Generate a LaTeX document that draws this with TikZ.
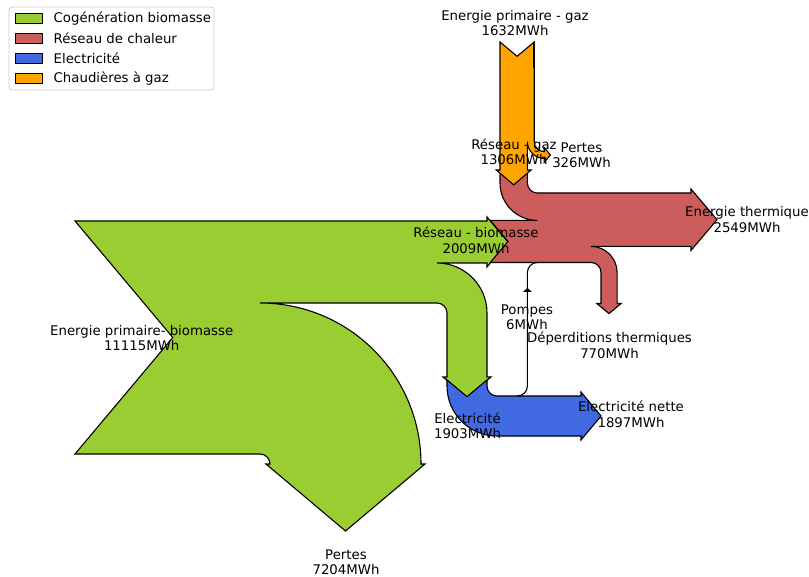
\documentclass[tikz,border=0pt]{standalone}
\usepackage{fontspec}
\setmainfont{DejaVu Sans}
\usetikzlibrary{positioning}
\definecolor{bio}{RGB}{154,205,50}
\definecolor{chaleur}{RGB}{205,92,92}
\definecolor{elec}{RGB}{65,105,225}
\definecolor{gaz}{RGB}{255,165,0}

\begin{document}
\begin{tikzpicture}[x=1pt, y=-1pt,
    every node/.style = {font=\fontsize{13.3}{15.5}\selectfont, inner sep=0pt},
    flux/.style = {draw=black, line width=1.1pt, line join=miter},
    lbl/.style = {align=center},
    patch/.style = {draw=black, line width=1pt, minimum width=27pt, minimum height=10pt}]
        \useasboundingbox (0,0) rectangle (809,577);

        \path[flux, fill=bio] (75,221) -- (487,221) -- (487,217) -- (508,242) -- (487,267) -- (487,263) -- (437,263)
            arc[start angle=-90, end angle=0, radius=50] -- (487,377) -- (491,377) -- (467,397) -- (443,377) -- (447,377) -- (447,313)
            arc[start angle=0, end angle=-90, radius=10] -- (260,303)
            arc[start angle=-90, end angle=0, radius=161] -- (425,464) -- (345.5,531) -- (266,464) -- (270,464)
            arc[start angle=0, end angle=-90, radius=10] -- (75,454) -- (172.8,337.5) -- cycle;

        \path[flux, fill=chaleur] (500,170) -- (513.7,181.5) -- (527.4,170) -- (527.4,183)
            arc[start angle=180, end angle=90, radius=10] -- (691,193) -- (691,189) -- (717,219.7) -- (691,250.4) -- (691,246.4) -- (591,246.4)
            arc[start angle=-90, end angle=0, radius=26.1] -- (617.1,303.5) -- (621.1,303.5) -- (609,313.6) -- (596.9,303.5) -- (601,303.5) -- (601,272.5)
            arc[start angle=0, end angle=-90, radius=10] -- (537.4,262.5) -- (490.3,262.5) -- (508,241.5) -- (490.3,220.4) -- (537.4,220.4)
            arc[start angle=90, end angle=180, radius=37.4] -- cycle;

        \path[flux, fill=elec] (447,380) -- (467,396.7) -- (487,380) -- (487,386)
            arc[start angle=180, end angle=90, radius=10] -- (581,396) -- (581,392) -- (601,416) -- (581,440) -- (581,436) -- (497,436)
            arc[start angle=90, end angle=180, radius=50] -- cycle;
        \draw[flux] (517.4,396) arc[start angle=90, end angle=0, radius=10] -- (527.4,272.5)
            arc[start angle=180, end angle=270, radius=10];
        \path[flux, line width=0.8pt, fill=black] (527.4,288.5) -- (530.9,291.6) -- (523.9,291.6) -- cycle;

        \path[flux, fill=gaz] (500,42) -- (517.1,56.3) -- (534.2,42) -- (534.2,141.6)
            arc[start angle=180, end angle=90, radius=10] -- (544.2,147.6) -- (550.4,155) -- (544.2,162.4) -- (544.2,158.4)
            arc[start angle=90, end angle=180, radius=16.8] -- (527.4,170) -- (531.1,170) -- (513.7,184.9) -- (496.3,170) -- (500,170) -- cycle;
        \draw[line width=2.2pt] (534.2,42) -- (534.2,68);

        \node[lbl] (Lgazin) at (515,23) {Energie primaire - gaz\\1632MWh};
        \node[lbl] (Lgazres) at (514,152) {Réseau - gaz\\1306MWh};
        \node[lbl] (Lgazpertes) at (581.5,155) {Pertes\\326MWh};
        \node[lbl] (Ltherm) at (747,219.5) {Energie thermique\\2549MWh};
        \node[lbl] (Lbiores) at (476,240.5) {Réseau - biomasse\\2009MWh};
        \node[lbl] (Lbioin) at (141.7,338) {Energie primaire- biomasse\\11115MWh};
        \node[lbl] (Lpompes) at (527,317) {Pompes\\6MWh};
        \node[lbl] (Ldeperd) at (609.5,345.5) {Déperditions thermiques\\770MWh};
        \node[lbl] (Lelec) at (467.5,426) {Electricité\\1903MWh};
        \node[lbl] (Lnette) at (631,414.5) {Electricité nette\\1897MWh};
        \node[lbl] (Lbiopertes) at (346,562) {Pertes\\7204MWh};

        \draw[draw=black!20, fill=white, rounded corners=3pt, line width=0.8pt] (9,7) rectangle (214,90);
        \node[patch, fill=bio] (Pbio) at (28.5,18.8) {};
        \node[right = 11pt of Pbio] (Tbio) {Cogénération biomasse};
        \node[patch, fill=chaleur] (Pchaleur) at (28.5,38.6) {};
        \node[right = 11pt of Pchaleur] (Tchaleur) {Réseau de chaleur};
        \node[patch, fill=elec] (Pelec) at (28.5,58.4) {};
        \node[right = 11pt of Pelec] (Telec) {Electricité};
        \node[patch, fill=gaz] (Pgaz) at (28.5,78.2) {};
        \node[right = 11pt of Pgaz] (Tgaz) {Chaudières à gaz};
    \end{tikzpicture}
\end{document}
